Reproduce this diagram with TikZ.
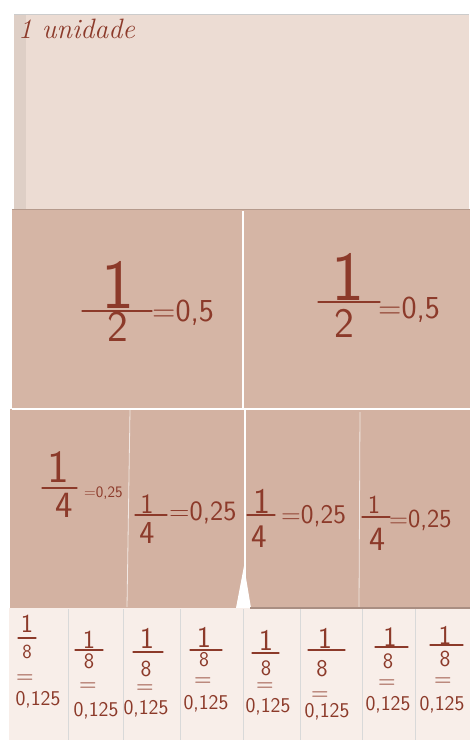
\documentclass[tikz,border=0pt]{standalone}
\usepackage{fontspec}
\definecolor{ink}{RGB}{140,58,42}
\definecolor{unitc}{RGB}{236,220,211}
\definecolor{halfc}{RGB}{213,181,165}
\definecolor{quartc}{RGB}{211,178,162}
\definecolor{eighthc}{RGB}{248,238,233}
\newcommand\fs[1]{\fontsize{#1}{#1}\selectfont}
\begin{document}
\begin{tikzpicture}[x=1pt,y=-1pt,
  hw/.style={text=ink,inner sep=0pt,anchor=base,font=\sffamily},
  fbar/.style={draw=ink,line width=1.3pt,line cap=round},
  seam/.style={draw=white,line width=1.2pt}]
\useasboundingbox (0,0) rectangle (471,740);
\fill[white] (0,0) rectangle (471,740);
% strips
\fill[unitc] (14,14) rectangle (469,210);
\fill[unitc!94!black] (14,14) rectangle (26,210);
\draw[black!20,line width=0.6pt] (14,14) -- (469,14);
\fill[halfc] (12,209) rectangle (470,409);
\draw[halfc!85!black,line width=0.8pt] (12,209.5) -- (470,209.5);
\draw[seam] (243,211) -- (243,408);
\fill[quartc] (10,409) rectangle (470,608);
\draw[seam] (12,409) -- (470,409);
\draw[draw=white!70!quartc,line width=0.8pt] (130,410) -- (127,607);
\draw[seam] (245,410) -- (245,600);
\draw[draw=white!70!quartc,line width=0.8pt] (360,412) -- (359,607);
\fill[white] (244,566) -- (251,608) -- (236,608) -- cycle;
\fill[eighthc] (9,608) rectangle (470,740);
\draw[quartc!80!black,line width=1.5pt] (250,608) -- (470,608);
\foreach \x in {68,123,180,243,300,362,415}
  \draw[black!15,line width=0.7pt] (\x,609) -- (\x,740);
% unit label
\node[text=ink,inner sep=0pt,anchor=base west,font=\fs{28}\itshape] (unit) at (18,38) {1 unidade};
% halves
\node[hw,font=\sffamily\fs{70}] (h1n) at (118,308) {1};
\draw[fbar] (82,311) -- (152,311);
\node[hw,font=\sffamily\fs{44}] (h1d) at (118,341) {2};
\node[hw,anchor=base west,font=\sffamily\fs{32}] (h1v) at (152,321) {=0,5};
\node[hw,font=\sffamily\fs{70}] (h2n) at (348,300) {1};
\draw[fbar] (318,302) -- (380,302);
\node[hw,font=\sffamily\fs{42}] (h2d) at (344,337) {2};
\node[hw,anchor=base west,font=\sffamily\fs{32}] (h2v) at (378,318) {=0,5};
% quarters
\node[hw,font=\sffamily\fs{46}] (q1n) at (58,482) {1};
\draw[fbar] (42,488) -- (77,488);
\node[hw,font=\sffamily\fs{37}] (q1d) at (64,517) {4};
\node[hw,anchor=base west,font=\sffamily\fs{16}] (q1v) at (84,497) {=0,25};
\node[hw,font=\sffamily\fs{28}] (q2n) at (147,513) {1};
\draw[fbar] (135,515) -- (167,515);
\node[hw,font=\sffamily\fs{32}] (q2d) at (147,543) {4};
\node[hw,anchor=base west,font=\sffamily\fs{28}] (q2v) at (169,520) {=0,25};
\node[hw,font=\sffamily\fs{36}] (q3n) at (262,513) {1};
\draw[fbar] (247,515) -- (275,515);
\node[hw,font=\sffamily\fs{33}] (q3d) at (259,547) {4};
\node[hw,anchor=base west,font=\sffamily\fs{27}] (q3v) at (281,523) {=0,25};
\node[hw,font=\sffamily\fs{26}] (q4n) at (374,513) {1};
\draw[fbar] (362,517) -- (390,517);
\node[hw,font=\sffamily\fs{34}] (q4d) at (377,550) {4};
\node[hw,anchor=base west,font=\sffamily\fs{26}] (q4v) at (389,527) {=0,25};
% eighths
\foreach \i/\nx/\ny/\ns/\bl/\br/\by/\dx/\dy/\ds/\ex/\ey/\vx/\vy in {
  1/27/632/26/18/36/638/27/658/20/25/683/38/705,
  2/89/648/26/75/103/650/89/668/22/88/691/96/716,
  3/147/648/30/133/163/652/146/676/23/145/693/146/714,
  4/204/647/30/190/222/650/204/666/21/203/686/206/709,
  5/266/650/30/252/279/653/266/675/22/265/691/268/712,
  6/325/648/30/308/345/650/322/676/24/320/700/327/717,
  7/390/646/28/375/408/647/388/668/22/387/688/388/710,
  8/445/644/27/430/463/645/445/666/23/443/686/442/710}{
  \node[hw,font=\sffamily\fs{\ns}] (e\i n) at (\nx,\ny) {1};
  \draw[fbar,line width=1.1pt] (\bl,\by) -- (\br,\by);
  \node[hw,font=\sffamily\fs{\ds}] (e\i d) at (\dx,\dy) {8};
  \node[hw,font=\sffamily\fs{24}] (e\i e) at (\ex,\ey) {=};
  \node[hw,font=\sffamily\fs{21}] (e\i v) at (\vx,\vy) {0,125};
}
\end{tikzpicture}
\end{document}
